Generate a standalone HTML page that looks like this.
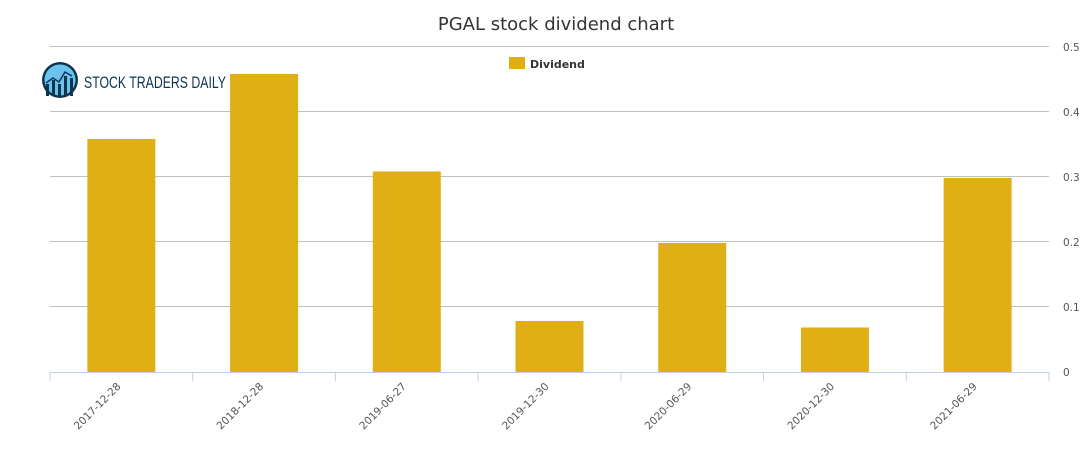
<!DOCTYPE html>
<html><head><meta charset="utf-8"><style>
body{margin:0;background:#fff;font-family:"DejaVu Sans","Liberation Sans",sans-serif;}
svg{display:block}
</style></head><body>
<svg id="c" width="1091" height="450">
<text x="556" y="30" text-anchor="middle" font-size="18" fill="#333" font-family="DejaVu Sans, sans-serif">PGAL stock dividend chart</text>
<g>
<rect x="509" y="57" width="16" height="12" fill="#e0ae15"/>
<text x="530" y="68" font-size="11" font-weight="bold" fill="#333" font-family="DejaVu Sans, sans-serif">Dividend</text>
</g>
<g>
<circle cx="60" cy="80" r="18" fill="#0d3550"/>
<circle cx="60" cy="80" r="15.5" fill="#6cc2ee"/>
<rect x="46" y="84" width="3" height="12" fill="#0d3550"/><rect x="52" y="80" width="3" height="16" fill="#0d3550"/>
<rect x="58" y="84" width="3" height="12" fill="#0d3550"/><rect x="64" y="76" width="3" height="20" fill="#0d3550"/><rect x="70" y="78" width="3" height="18" fill="#0d3550"/>
<polyline points="46,83 53,78 59,82 65,72 72,76" fill="none" stroke="#0d3550" stroke-width="1.5"/>
<text x="84" y="88" font-size="17" fill="#0d3550" font-family="Liberation Sans Narrow, Liberation Sans, sans-serif" textLength="142" lengthAdjust="spacingAndGlyphs">STOCK TRADERS DAILY</text>
</g>
<g id="grid"></g><g id="bars"></g><g id="axes"></g>
</svg>
<script>
const categories=["2017-12-28","2018-12-28","2019-06-27","2019-12-30","2020-06-29","2020-12-30","2021-06-29"];
const dividends=[0.36,0.46,0.31,0.08,0.2,0.07,0.3];
const yTicks=[0,0.1,0.2,0.3,0.4,0.5];
const yTickLabels=["0","0.1","0.2","0.3","0.4","0.5"];
const NS="http://www.w3.org/2000/svg";
const L=50,R=1049,T=47,B=372,yMax=0.5;
const y=v=>B-(v/yMax)*(B-T);
const band=(R-L)/categories.length;
const x=i=>L+band*i+band/2;
function mk(tag,attrs,parent){const e=document.createElementNS(NS,tag);for(const k in attrs)e.setAttribute(k,attrs[k]);parent.appendChild(e);return e;}
const grid=document.getElementById('grid'),bars=document.getElementById('bars'),axes=document.getElementById('axes');
yTicks.forEach((t,i)=>{
 if(t>0){const g=mk('line',{x1:L,x2:R,y1:y(t)-0.5,y2:y(t)-0.5,stroke:'#c0c0c0','stroke-width':1},grid);
 
 }
 const tx=mk('text',{x:1063,y:y(t)+4,'font-size':10.5,fill:'#555'},axes);
 tx.textContent=yTickLabels[i];
 
 
});
const ax=mk('line',{x1:L,x2:R,y1:B+0.5,y2:B+0.5,stroke:'#c0d0e0'},axes);


for(let i=0;i<=categories.length;i++){const tk=mk('line',{x1:L+band*i,x2:L+band*i,y1:B,y2:B+9,stroke:'#c0d0e0'},axes);
 
 }
categories.forEach((c,i)=>{
 const w=68;
 const r=mk('rect',{x:x(i)-w/2,y:y(dividends[i])+1,width:w,height:B-y(dividends[i])-1,fill:'#e0ae15'},bars);
 
 
 const ax0=x(i),ay0=B+15;
 const t=mk('text',{x:ax0,y:ay0,'font-size':10.5,fill:'#555','text-anchor':'end',transform:`rotate(-45 ${ax0} ${ay0})`},axes);
 t.textContent=c;
 
 
});
</script>
</body></html>
